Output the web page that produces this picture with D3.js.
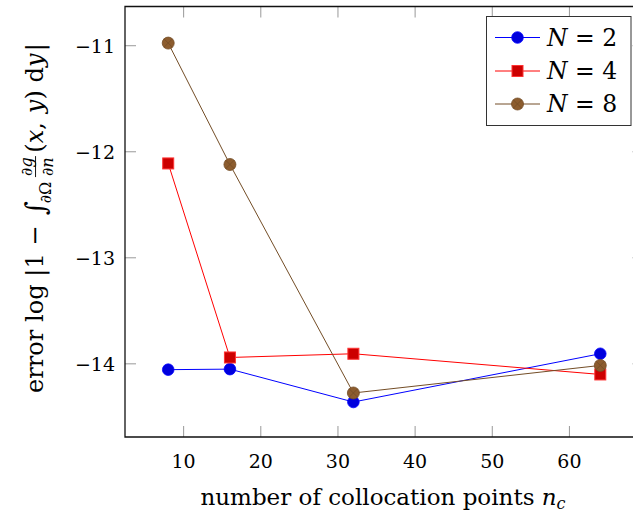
<!DOCTYPE html>
<html>
<head>
<meta charset="utf-8">
<script src="https://cdn.jsdelivr.net/npm/d3@7"></script>
<style>
  body { margin: 0; background: #fff; }
  svg { display: block; }
  text { font-family: "DejaVu Serif", "Liberation Serif", serif; white-space: pre; }
</style>
</head>
<body>
<svg id="svg" width="633" height="513"></svg>
<script>
var nPoints = [8, 16, 32, 64];
var errN2 = [-14.055, -14.05, -14.36, -13.905];
var errN4 = [-12.11, -13.94, -13.905, -14.10];
var errN8 = [-10.975, -12.12, -14.275, -14.015];
var xTicks = [10, 20, 30, 40, 50, 60];
var yTicks = [-11, -12, -13, -14];
var seriesNames = ['2', '4', '8'];

var svg = d3.select('#svg');
var margin = { top: 6.5, bottom: 76, left: 125 };
var width = 633, height = 513;

// plot area runs past the right edge of the picture (cropped in the original)
var x = d3.scaleLinear().domain([2.4, 69.6]).range([margin.left, 643.5]);
var y = d3.scaleLinear().domain([-14.69, -10.63]).range([height - margin.bottom, margin.top]);

var series = [
  { name: seriesNames[0], vals: errN2, line: '#0000ff', fill: '#0000dd', stroke: '#0000ff', mark: 'circle' },
  { name: seriesNames[1], vals: errN4, line: '#ff0000', fill: '#cc0000', stroke: '#ff3333', mark: 'square' },
  { name: seriesNames[2], vals: errN8, line: '#734d26', fill: '#8c5c2e', stroke: '#734d26', mark: 'otimes' }
];

var x0 = margin.left, x1 = 643.5, y0 = height - margin.bottom, y1 = margin.top;
var tickLen = 11;

// ticks (inside, gray)
var tg = svg.append('g').attr('stroke', '#999').attr('stroke-width', 1);
xTicks.forEach(function(t) {
  tg.append('line').attr('x1', x(t)).attr('x2', x(t)).attr('y1', y0).attr('y2', y0 - tickLen);
  tg.append('line').attr('x1', x(t)).attr('x2', x(t)).attr('y1', y1).attr('y2', y1 + tickLen);
});
yTicks.forEach(function(t) {
  tg.append('line').attr('x1', x0).attr('x2', x0 + tickLen).attr('y1', y(t)).attr('y2', y(t));
  tg.append('line').attr('x1', x1).attr('x2', x1 - tickLen).attr('y1', y(t)).attr('y2', y(t));
});

// tick labels
svg.append('g').selectAll('text').data(xTicks).enter().append('text')
  .attr('x', function(d) { return x(d); })
  .attr('y', 468)
  .attr('text-anchor', 'middle')
  .style('font-size', '19px')
  .text(function(d) { return d; });

svg.append('g').selectAll('text').data(yTicks).enter().append('text')
  .attr('x', 115)
  .attr('y', function(d) { return y(d) + 7; })
  .attr('text-anchor', 'end')
  .style('font-size', '19px')
  .text(function(d) { return '\u2212' + Math.abs(d); });

// lines and marks
var line = d3.line()
  .x(function(d, i) { return x(nPoints[i]); })
  .y(function(d) { return y(d); });

function drawMark(g, type, cx, cy, s) {
  if (type === 'circle') {
    g.append('circle').attr('cx', cx).attr('cy', cy).attr('r', 5.8)
      .attr('fill', s.fill).attr('stroke', s.stroke).attr('stroke-width', 0.8);
  } else if (type === 'square') {
    g.append('rect').attr('x', cx - 5.5).attr('y', cy - 5.5).attr('width', 11).attr('height', 11)
      .attr('fill', s.fill).attr('stroke', s.stroke).attr('stroke-width', 1);
  } else {
    var r = 6;
    g.append('circle').attr('cx', cx).attr('cy', cy).attr('r', r)
      .attr('fill', s.fill).attr('stroke', s.stroke).attr('stroke-width', 0.8);
    var d = r * Math.SQRT1_2;
    g.append('path')
      .attr('d', 'M' + (cx - d) + ',' + (cy - d) + 'L' + (cx + d) + ',' + (cy + d) +
                 'M' + (cx - d) + ',' + (cy + d) + 'L' + (cx + d) + ',' + (cy - d))
      .attr('stroke', s.stroke).attr('stroke-width', 0.8);
  }
}

series.forEach(function(s) {
  svg.append('path').datum(s.vals)
    .attr('d', line)
    .attr('fill', 'none')
    .attr('stroke', s.line)
    .attr('stroke-width', 1);
});
series.forEach(function(s) {
  var g = svg.append('g');
  s.vals.forEach(function(v, i) { drawMark(g, s.mark, x(nPoints[i]), y(v), s); });
});

// axis frame
svg.append('path')
  .attr('d', 'M' + x1 + ',' + y1 + 'H' + x0 + 'V' + y0 + 'H' + x1)
  .attr('fill', 'none').attr('stroke', '#111').attr('stroke-width', 1.3);

// legend
var lg = svg.append('g');
lg.append('rect').attr('x', 486.5).attr('y', 16.5).attr('width', 144.5).attr('height', 109)
  .attr('fill', '#fff').attr('stroke', '#333').attr('stroke-width', 1);
var legY = [37.5, 71, 104];
series.forEach(function(s, i) {
  lg.append('line').attr('x1', 495).attr('x2', 540).attr('y1', legY[i]).attr('y2', legY[i])
    .attr('stroke', s.line).attr('stroke-width', 1);
  drawMark(lg, s.mark, 517.5, legY[i], s);
  var t = lg.append('text').attr('x', 547).attr('y', legY[i] + 8).style('font-size', '23.5px');
  t.append('tspan').style('font-style', 'italic').text('N');
  t.append('tspan').text(' = ' + s.name);
});

// x label
var xl = svg.append('text').attr('x', 383).attr('y', 505).attr('text-anchor', 'middle')
  .style('font-size', '23px');
xl.append('tspan').text('number of collocation points ');
xl.append('tspan').style('font-style', 'italic').text('n');
xl.append('tspan').style('font-style', 'italic').style('font-size', '16px').attr('dy', 4).text('c');

// y label: laid out piece by piece, then rotated
var yl = svg.append('g');
var inner = yl.append('g');
var pos = 0;
function piece(str, opts) {
  opts = opts || {};
  var t = inner.append('text').attr('x', pos).attr('y', opts.dy || 0)
    .style('font-size', (opts.size || 21) + 'px')
    .style('font-style', opts.italic ? 'italic' : 'normal')
    .text(str);
  var w = t.node().getComputedTextLength();
  pos += w + (opts.gap || 0);
  return w;
}
piece('error log |1 \u2212 ', { gap: 2 });
piece('\u222B', { size: 24, dy: 2, gap: -2 });
piece('\u2202\u03A9', { size: 14, dy: 7, gap: 4 });
// fraction
var fStart = pos;
var num = inner.append('text').attr('y', -10).style('font-size', '14px');
num.append('tspan').text('\u2202');
num.append('tspan').style('font-style', 'italic').text('g');
var den = inner.append('text').attr('y', 9).style('font-size', '14px');
den.append('tspan').text('\u2202');
den.append('tspan').style('font-style', 'italic').text('n');
var wNum = num.node().getComputedTextLength();
var wDen = den.node().getComputedTextLength();
var fw = Math.max(wNum, wDen) + 2;
num.attr('x', fStart + (fw - wNum) / 2);
den.attr('x', fStart + (fw - wDen) / 2);
inner.append('line').attr('x1', fStart).attr('x2', fStart + fw).attr('y1', -6.5).attr('y2', -6.5)
  .attr('stroke', '#000').attr('stroke-width', 0.8);
pos += fw + 3;
piece('(');
piece('x', { italic: true });
piece(', ', { gap: 1 });
piece('y', { italic: true });
piece(') d');
piece('y', { italic: true, gap: 2 });
piece('|');

var totalW = pos;
var target = 350;
var sc = target / totalW;
// centre at page y = 218, baseline at page x = 43
yl.attr('transform', 'translate(43,' + (218 + target / 2) + ') rotate(-90) scale(' + sc + ')');
</script>
</body>
</html>
